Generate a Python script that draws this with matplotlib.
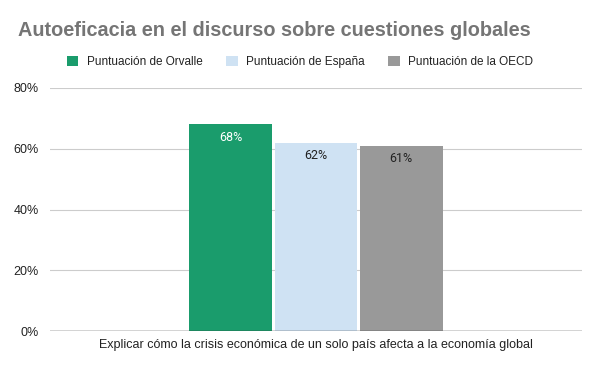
import matplotlib
matplotlib.use("Agg")
import matplotlib.pyplot as plt
import numpy as np

# datos del grafico
categorias = ["Explicar cómo la crisis económica de un solo país afecta a la economía global"]
series = ["Puntuación de Orvalle", "Puntuación de España", "Puntuación de la OECD"]
valores = [68, 62, 61]
colores = ["#1a9c6c", "#cfe2f3", "#999999"]
color_etiqueta = ["white", "#222222", "#222222"]
yticks = [0, 20, 40, 60, 80]

plt.rcParams['font.family'] = ['Liberation Sans', 'DejaVu Sans']

fig = plt.figure(figsize=(6, 3.71), dpi=100)
ax = fig.add_axes([50/600, 1-331/371, 532/600, 243/371])

ancho = 0.156
paso = 0.16
x = np.arange(len(categorias))
for i, (s, v) in enumerate(zip(series, valores)):
    pos = x + (i - 1) * paso
    ax.bar(pos, [v], width=ancho, color=colores[i], label=s, zorder=3)
    ax.text(pos[0], v - 2.0, f"{v}%", ha='center', va='top', fontsize=9,
            color=color_etiqueta[i], family=['Roboto', 'DejaVu Sans'], zorder=4)

ax.set_xlim(-0.5, 0.5)
ax.set_ylim(0, 80)
ax.set_yticks(yticks)
ax.set_yticklabels([f"{t}%" for t in yticks])
ax.set_xticks(x)
ax.set_xticklabels(categorias)
ax.grid(axis='y', color='#cccccc', linewidth=0.8, zorder=0)
ax.axhline(0, color='#333333', linewidth=1, zorder=5)
for sp in ax.spines.values():
    sp.set_visible(False)
ax.tick_params(axis='both', length=0, labelsize=9, labelcolor='#222222')
ax.tick_params(axis='y', pad=8)
ax.tick_params(axis='x', pad=6)

fig.text(18/600, 1-31/371, "Autoeficacia en el discurso sobre cuestiones globales",
         fontsize=14.3, fontweight='bold', color='#757575', va='center', ha='left')

fig.legend(loc='center', bbox_to_anchor=(0.5, 1-62/371), ncol=3, frameon=False,
           fontsize=8.5, handlelength=1.0, handleheight=1.0, columnspacing=2.0,
           handletextpad=0.7, labelcolor='#222222')

fig.savefig("out.png", dpi=100)
